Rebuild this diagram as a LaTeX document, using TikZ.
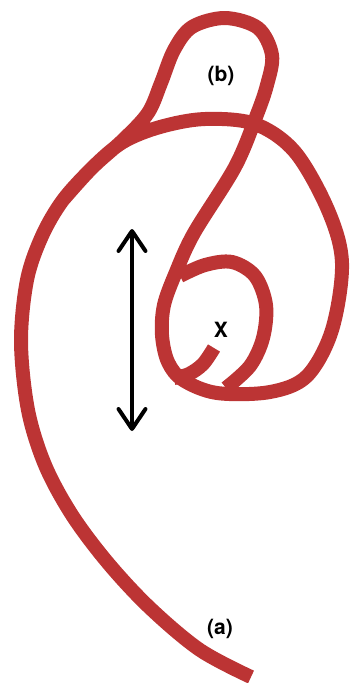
\documentclass[tikz,border=0pt]{standalone}
\usepackage{fontspec}
\setmainfont{TeX Gyre Heros}
\usetikzlibrary{arrows.meta}
\definecolor{tube}{RGB}{188,52,52}
\tikzset{
  tubeline/.style={draw=tube, line width=14pt, line join=round, line cap=butt},
  lbl/.style={font=\fontsize{21}{25}\selectfont\bfseries, inner sep=0pt},
  dblarrow/.style={line width=4pt, {Straight Barb[length=20pt,width=27pt,round]}-{Straight Barb[length=20pt,width=27pt,round]}}
}
\begin{document}
\begin{tikzpicture}[x=1pt,y=-1pt]
\useasboundingbox (0,0) rectangle (350,683);
% main tube: (a) end, left side, loop (b), diagonal, spiral bottom, big circle
\draw[tubeline] plot[smooth, tension=0.55] coordinates {
 (251,677) (200,650) (150,608) (108,563) (72,515) (45,465) (28,410)
 (21,342) (27,280) (42,236) (63,200) (93,167) (123,140) (148,113) (161,83)
 (174,50) (192,27) (225,18) (258,28) (272,55) (267,85) (256,117) (235,167)
 (194,233) (176,272) (164,305) (162,335) (168,362) (183,380) (217,393)
 (270,392) (307,376) (332,330) (342,263) (328,210) (295,152) (255,124)
 (205,119) (160,127) (123,142) (93,167) (63,200)};
% inner loop
\draw[tubeline] plot[smooth, tension=0.55] coordinates {
 (180,276) (205,265) (232,262) (255,276) (266,305) (263,338) (250,366) (226,388)};
% hook
\draw[tubeline] plot[smooth, tension=0.55] coordinates {
 (214,348) (203,364) (189,374) (174,378)};
% double arrow
\coordinate (arrtop) at (132,229);
\coordinate (arrbot) at (132,431);
\draw[dblarrow] (arrtop) -- (arrbot);
% labels
\node[lbl] (la) at (220,629) {(a)};
\node[lbl] (lb) at (221,76) {(b)};
\node[lbl] (lx) at (221,330) {X};
\end{tikzpicture}
\end{document}
